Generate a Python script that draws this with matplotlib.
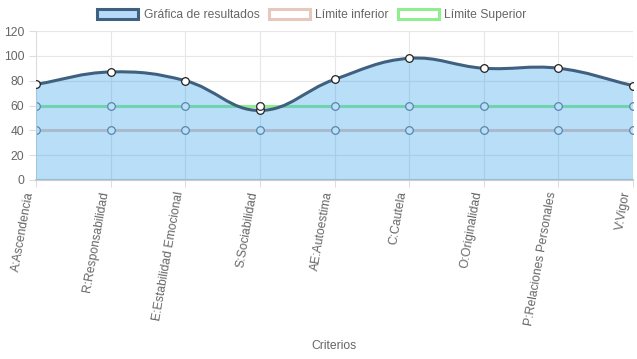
import numpy as np
import matplotlib.pyplot as plt
from matplotlib.path import Path
from matplotlib.patches import PathPatch, Patch

plt.rcParams['font.family'] = ['Liberation Sans', 'DejaVu Sans']

# datos
criterios = ['A:Ascendencia', 'R:Responsabilidad', 'E:Estabilidad Emocional',
             'S:Sociabilidad', 'AE:Autoestima', 'C:Cautela', 'O:Originalidad',
             'P:Relaciones Personales', 'V:Vigor']
resultados = [77, 87, 80, 56, 81, 98, 90, 90, 76]
limite_inferior = [40, 40, 40, 40, 40, 40, 40, 40, 40]
limite_superior = [60, 60, 60, 60, 60, 60, 60, 60, 60]


def curva(xs, ys, tension=0.4, sx=74.6, sy=1.225):
    # spline tipo chart.js (control points calculados en pixeles)
    px = np.array(xs, float) * sx
    py = np.array(ys, float) * sy
    n = len(px)
    verts = [(xs[0], ys[0])]
    codes = [Path.MOVETO]
    cp_prev = []
    cp_next = []
    for i in range(n):
        a = max(i - 1, 0)
        b = min(i + 1, n - 1)
        d01 = np.hypot(px[i] - px[a], py[i] - py[a])
        d12 = np.hypot(px[b] - px[i], py[b] - py[i])
        tot = d01 + d12 if d01 + d12 > 0 else 1
        fa = tension * d01 / tot
        fb = tension * d12 / tot
        dx = px[b] - px[a]
        dy = py[b] - py[a]
        cp_prev.append(((px[i] - fa * dx) / sx, (py[i] - fa * dy) / sy))
        cp_next.append(((px[i] + fb * dx) / sx, (py[i] + fb * dy) / sy))
    for i in range(1, n):
        verts += [cp_next[i - 1], cp_prev[i], (xs[i], ys[i])]
        codes += [Path.CURVE4] * 3
    return verts, codes


fig = plt.figure(figsize=(6.37, 3.59), dpi=100)
ax = fig.add_axes([36 / 637, 1 - 180 / 359, 597 / 637, 149 / 359])

x = np.arange(len(criterios))

# lineas de limite (debajo del relleno)
ax.plot(x, limite_inferior, color='#e6c8bc', lw=2.2, zorder=2,
        marker='o', ms=5.5, mfc='white', mec='#6a7a8c', mew=0.9)
ax.plot(x, limite_superior, color='#90ee90', lw=2.2, zorder=2,
        marker='o', ms=5.5, mfc='white', mec='#6a7a8c', mew=0.9)

verts, codes = curva(list(x), resultados)
fill_verts = verts + [(x[-1], 0), (x[0], 0), (x[0], resultados[0])]
fill_codes = codes + [Path.LINETO, Path.LINETO, Path.CLOSEPOLY]
ax.add_patch(PathPatch(Path(fill_verts, fill_codes), facecolor=(54 / 255, 162 / 255, 235 / 255, 0.35),
                       edgecolor='none', zorder=3))
ax.add_patch(PathPatch(Path(verts, codes), facecolor='none', edgecolor='#40607f',
                       lw=2.2, zorder=4))
ax.plot(x, resultados, ls='none', marker='o', ms=5.5, mfc='white', mec='#222222',
        mew=0.9, zorder=5)
ax.plot([3], [limite_superior[3]], ls='none', marker='o', ms=5.5, mfc='white',
        mec='#333333', mew=0.9, zorder=5)

ax.set_xlim(0, len(criterios) - 1)
ax.set_ylim(0, 120)
ax.set_yticks(range(0, 121, 20))
ax.set_xticks(x)
ax.set_xticklabels(criterios, rotation=80, ha='right', va='bottom',
                   rotation_mode='anchor')
ax.tick_params(colors='#666666', labelsize=8.7, length=5, width=0.8)
ax.tick_params(axis='x', pad=4, colors='#dddddd', labelcolor='#666666')
ax.tick_params(axis='y', colors='#dddddd', labelcolor='#666666')
ax.grid(True, color='#e6e6e6', lw=0.8)
ax.set_axisbelow(True)
for s in ['top', 'right']:
    ax.spines[s].set_visible(False)
ax.spines['left'].set_color('#dddddd')
ax.spines['bottom'].set_color('#cccccc')
ax.spines['bottom'].set_linewidth(1.5)

fig.text(334 / 637, 1 - 346 / 359, 'Criterios', ha='center', va='center',
         color='#666666', fontsize=8.7)

handles = [
    Patch(facecolor='#b8dafa', edgecolor='#40607f', lw=2.2, label='Gráfica de resultados'),
    Patch(facecolor='white', edgecolor='#e6c8bc', lw=2.2, label='Límite inferior'),
    Patch(facecolor='white', edgecolor='#90ee90', lw=2.2, label='Límite Superior'),
]
fig.legend(handles=handles, loc='center', bbox_to_anchor=(312 / 637, 1 - 15 / 359),
           ncol=3, frameon=False, fontsize=8.7, handlelength=3.4, handleheight=0.9,
           handletextpad=0.45, columnspacing=0.75, labelcolor='#666666')

fig.savefig('out.png', dpi=100)
